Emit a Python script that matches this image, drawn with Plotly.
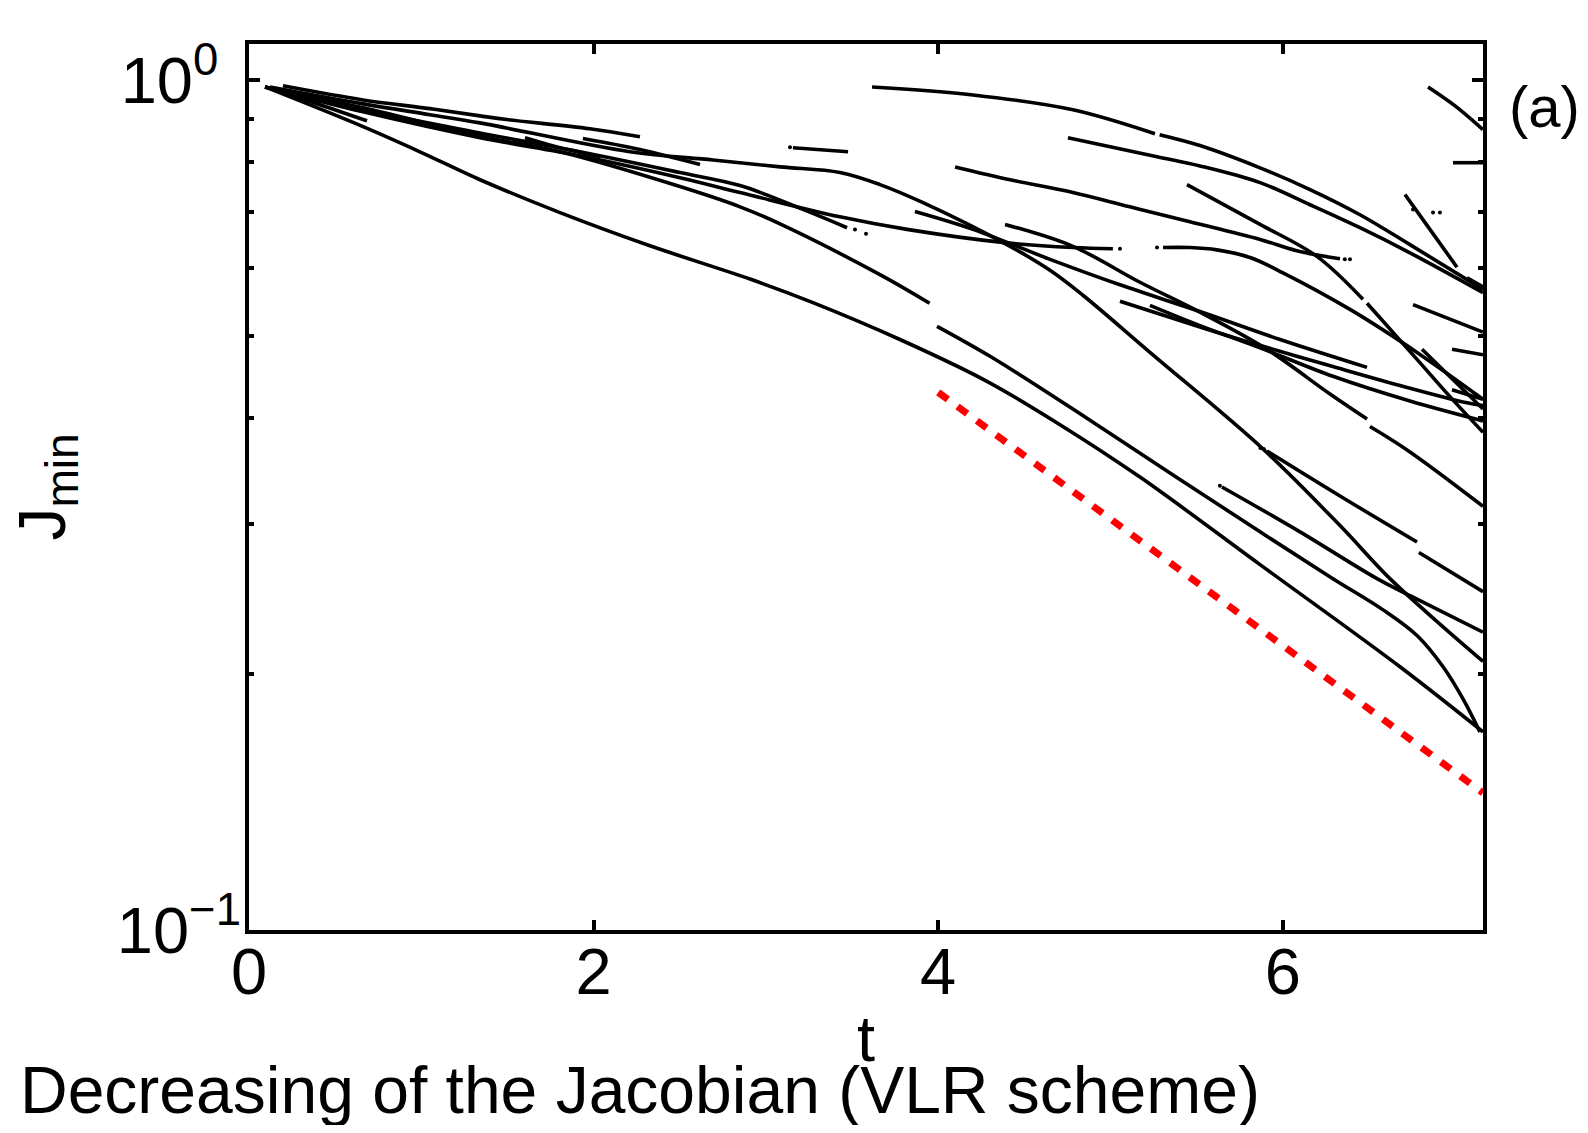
import math
import plotly.graph_objects as go

# ---------------- axes / ticks ----------------
T_MIN, T_MAX = 0.0, 7.162
J_MIN, J_MAX = 0.1, 1.102
X_TICKS = [0, 2, 4, 6]
Y_MAJOR = [0.1, 1.0]
Y_MAJOR_TEXT = ["10<sup>\u22121</sup>", "10<sup>0\u2002</sup>"]
Y_MINOR = [0.2, 0.3, 0.4, 0.5, 0.6, 0.7, 0.8, 0.9]

# ---------------- J_min(t) curve segments ----------------
t_A = [0.093, 0.662, 0.992, 1.341, 1.805, 2.327, 2.908, 3.273, 3.778, 4.283, 4.707, 5.171, 5.868, 6.680, 7.162]
J_A = [0.981, 0.881, 0.823, 0.763, 0.698, 0.638, 0.583, 0.547, 0.495, 0.442, 0.393, 0.341, 0.269, 0.204, 0.171]

t_B1 = [0.093, 0.662, 1.341, 1.805, 2.501, 2.850, 3.082, 3.662, 3.950]
J_B1 = [0.981, 0.927, 0.859, 0.823, 0.749, 0.709, 0.677, 0.590, 0.546]
t_B2 = [3.993, 4.301, 4.782, 5.363, 5.868, 6.291, 6.582, 6.779, 6.930, 7.046, 7.144]
J_B2 = [0.513, 0.473, 0.410, 0.343, 0.294, 0.259, 0.238, 0.222, 0.204, 0.187, 0.171]

t_D = [0.122, 0.662, 1.050, 1.341, 2.211, 2.693, 3.082, 3.430, 3.662, 3.912, 4.399, 4.649, 4.840, 5.229, 5.885, 6.332, 6.622, 6.912, 7.162]
J_D = [0.981, 0.937, 0.910, 0.890, 0.823, 0.805, 0.790, 0.778, 0.753, 0.717, 0.640, 0.597, 0.558, 0.478, 0.368, 0.299, 0.259, 0.229, 0.207]

t_T = [0.197, 0.662, 1.050, 1.341, 1.497, 1.979, 2.269]
J_T = [0.984, 0.947, 0.925, 0.907, 0.898, 0.876, 0.857]

t_E = [0.093, 0.662, 1.341, 1.921, 2.501, 2.850, 3.215, 3.471]
J_E = [0.981, 0.922, 0.866, 0.823, 0.778, 0.751, 0.704, 0.670]

t_F = [0.093, 0.662, 1.341, 1.921, 2.501, 2.850, 3.430, 3.819, 4.399, 4.782, 5.014]
J_F = [0.981, 0.917, 0.855, 0.814, 0.767, 0.737, 0.690, 0.667, 0.643, 0.635, 0.633]

t_S1 = [0.110, 0.412, 0.685]
J_S1 = [0.979, 0.935, 0.895]
t_S2 = [1.602, 1.805, 2.037]
J_S2 = [0.855, 0.832, 0.812]
t_S3 = [1.938, 2.269, 2.618]
J_S3 = [0.853, 0.828, 0.795]
t_S4 = [3.157, 3.477]
J_S4 = [0.832, 0.823]

t_C1a = [3.616, 4.202, 4.782, 5.258]
J_C1a = [0.981, 0.960, 0.922, 0.864]
t_C1b = [5.285, 5.519, 5.868, 6.158, 6.448, 6.738, 7.162]
J_C1b = [0.862, 0.837, 0.788, 0.743, 0.694, 0.640, 0.567]
t_C2 = [4.753, 5.270, 5.519, 5.868, 6.158, 6.448, 6.738, 7.162]
J_C2 = [0.855, 0.812, 0.792, 0.757, 0.713, 0.670, 0.626, 0.562]
t_C3 = [4.098, 4.417, 4.782, 5.113, 5.461, 5.868, 6.100, 6.332]
J_C3 = [0.790, 0.763, 0.737, 0.709, 0.681, 0.649, 0.628, 0.616]
t_C4a = [5.444, 5.636, 5.868, 6.198, 6.465]
J_C4a = [0.753, 0.717, 0.676, 0.620, 0.552]
t_C4b = [6.489, 6.779, 6.970, 7.162]
J_C4b = [0.546, 0.469, 0.424, 0.385]
t_C5 = [5.305, 5.461, 5.618, 5.810, 6.001, 6.390, 6.779, 7.162]
J_C5 = [0.635, 0.635, 0.631, 0.618, 0.593, 0.537, 0.478, 0.421]

t_G = [3.865, 4.202, 4.649, 5.055, 5.519, 5.984, 6.489]
J_G = [0.700, 0.667, 0.615, 0.574, 0.534, 0.495, 0.459]
t_H1 = [4.388, 4.782, 5.171, 5.519, 5.908, 6.274, 6.489]
J_H1 = [0.676, 0.637, 0.578, 0.533, 0.482, 0.427, 0.399]
t_H2 = [6.506, 6.738, 7.162]
J_H2 = [0.391, 0.365, 0.315]
t_I = [5.055, 5.560, 5.810, 6.291, 6.680, 7.069, 7.162]
J_I = [0.549, 0.509, 0.491, 0.460, 0.437, 0.417, 0.414]
t_M = [5.229, 5.519, 5.868, 6.291, 6.738, 7.162]
J_M = [0.543, 0.514, 0.484, 0.448, 0.419, 0.397]
t_P1 = [5.908, 6.332, 6.779]
J_P1 = [0.366, 0.324, 0.286]
t_P2 = [6.790, 7.162]
J_P2 = [0.278, 0.250]
t_K = [5.647, 6.100, 6.547, 6.779, 7.162]
J_K = [0.332, 0.294, 0.259, 0.245, 0.224]

t_R1 = [6.843, 7.000, 7.162]
J_R1 = [0.981, 0.932, 0.874]
t_R2 = [6.988, 7.162]
J_R2 = [0.799, 0.799]
t_R3 = [6.709, 6.854, 7.011]
J_R3 = [0.733, 0.667, 0.602]
t_R4 = [7.069, 7.162]
J_R4 = [0.585, 0.571]
t_R5 = [6.756, 7.162]
J_R5 = [0.544, 0.505]
t_R6 = [6.982, 7.162]
J_R6 = [0.482, 0.475]
t_R7 = [6.808, 7.162]
J_R7 = [0.482, 0.410]
t_R8 = [6.982, 7.162]
J_R8 = [0.432, 0.421]

# isolated dots at segment ends
t_dots = [3.517, 3.581, 5.055, 6.360, 6.390, 5.270, 5.870, 5.890, 5.635, 6.756, 6.872, 6.912, 3.140]
J_dots = [0.667, 0.659, 0.633, 0.615, 0.615, 0.635, 0.369, 0.368, 0.333, 0.704, 0.698, 0.698, 0.833]

# reference decay slope (red dotted)
t_ref = [4.0, 7.162]
J_ref = [0.429, 0.145]

segments = [
    (t_A, J_A), (t_B1, J_B1), (t_B2, J_B2), (t_D, J_D), (t_T, J_T), (t_E, J_E), (t_F, J_F),
    (t_S1, J_S1), (t_S2, J_S2), (t_S3, J_S3), (t_S4, J_S4),
    (t_C1a, J_C1a), (t_C1b, J_C1b), (t_C2, J_C2), (t_C3, J_C3), (t_C4a, J_C4a), (t_C4b, J_C4b), (t_C5, J_C5),
    (t_G, J_G), (t_H1, J_H1), (t_H2, J_H2), (t_I, J_I), (t_M, J_M), (t_P1, J_P1), (t_P2, J_P2), (t_K, J_K),
    (t_R1, J_R1), (t_R2, J_R2), (t_R3, J_R3), (t_R4, J_R4), (t_R5, J_R5), (t_R6, J_R6), (t_R7, J_R7), (t_R8, J_R8),
]

FONT = "Liberation Sans, Arial, Helvetica, sans-serif"
fig = go.Figure()

for tt, jj in segments:
    fig.add_trace(go.Scatter(
        x=tt, y=jj, mode="lines",
        line=dict(color="black", width=3.6, shape="spline", smoothing=1.0),
        hoverinfo="skip", showlegend=False))

fig.add_trace(go.Scatter(
    x=t_dots, y=J_dots, mode="markers",
    marker=dict(color="black", size=4),
    hoverinfo="skip", showlegend=False))

fig.add_trace(go.Scatter(
    x=t_ref, y=J_ref, mode="lines", yaxis="y2",
    line=dict(color="#ff0000", width=7, dash="12px,12px"),
    hoverinfo="skip", showlegend=False))

# plot area in page pixels: left 249, right 1483, top 44, bottom 930 (body has 8px margin)
W, H = 1572, 1117
ML, MT = 241, 36
PW, PH = 1234, 886
MR = W - ML - PW
MB = H - MT - PH

yr = [math.log10(J_MIN), math.log10(J_MAX)]

common = dict(showline=True, linecolor="black", linewidth=4, mirror="ticks",
              ticks="inside", tickcolor="black", tickwidth=3.5,
              showgrid=False, zeroline=False, automargin=False)

fig.update_layout(
    width=W, height=H,
    margin=dict(l=ML, r=MR, t=MT, b=MB, autoexpand=False),
    paper_bgcolor="white", plot_bgcolor="white",
    font=dict(family=FONT, color="black", size=65),
    xaxis=dict(range=[T_MIN, T_MAX], tickvals=X_TICKS, ticklen=10,
               tickfont=dict(size=65, family=FONT), ticklabelstandoff=-18, **common),
    yaxis=dict(type="log", range=yr, tickvals=Y_MAJOR, ticktext=Y_MAJOR_TEXT, ticklen=11,
               tickfont=dict(size=65, family=FONT), ticklabelstandoff=-9, **common),
    yaxis2=dict(type="log", range=yr, overlaying="y", side="left", tickvals=Y_MINOR,
                ticklen=5, showticklabels=False, **common),
    annotations=[
        dict(text="t", xref="paper", yref="paper", x=0.5, y=-0.123,
             xanchor="center", yanchor="middle", showarrow=False,
             font=dict(size=65, family=FONT)),
        dict(text="J<sub>min</sub>", xref="paper", yref="paper", x=-0.164, y=0.5,
             xanchor="center", yanchor="middle", showarrow=False, textangle=-90,
             font=dict(size=66, family=FONT)),
        dict(text="(a)", xref="paper", yref="paper", x=1.0195, y=0.9295,
             xanchor="left", yanchor="middle", showarrow=False,
             font=dict(size=58, family=FONT)),
        dict(text="Decreasing of the Jacobian (VLR scheme)", xref="paper", yref="paper",
             x=-0.1872, y=-0.181, xanchor="left", yanchor="middle", showarrow=False,
             font=dict(size=66, family=FONT)),
    ],
)

fig.write_html("out.html")
